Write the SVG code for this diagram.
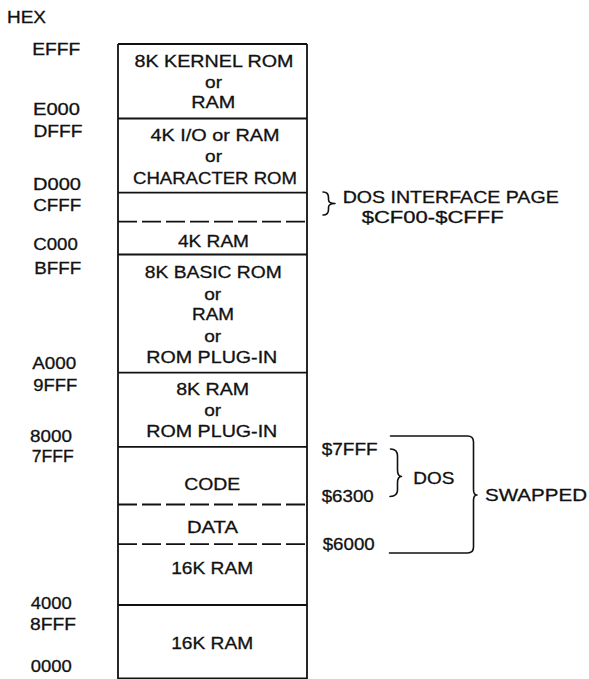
<svg xmlns="http://www.w3.org/2000/svg" width="589" height="679" viewBox="0 0 589 679">
<style>
text{font-family:"Liberation Sans",Arial,sans-serif;font-size:17px;fill:#111;stroke:#111;stroke-width:0.3;}
.c{text-anchor:middle;}
.ln{stroke:#111;stroke-width:1.8;fill:none;}
.ds{stroke:#111;stroke-width:1.8;fill:none;stroke-dasharray:19 5;}
.br{stroke:#111;stroke-width:1.6;fill:none;stroke-linejoin:round;stroke-linecap:round;}
</style>
<rect width="589" height="679" fill="#fff"/>

<g id="addresses">
<text x="7" y="22.7" textLength="39" lengthAdjust="spacingAndGlyphs">HEX</text>
<text x="32.3" y="54.5" textLength="48" lengthAdjust="spacingAndGlyphs">EFFF</text>
<text x="33" y="115" textLength="47" lengthAdjust="spacingAndGlyphs">E000</text>
<text x="33.5" y="136.7" textLength="49" lengthAdjust="spacingAndGlyphs">DFFF</text>
<text x="33" y="189.5" textLength="48" lengthAdjust="spacingAndGlyphs">D000</text>
<text x="33.3" y="210.5" textLength="48" lengthAdjust="spacingAndGlyphs">CFFF</text>
<text x="33.3" y="250" textLength="44.5" lengthAdjust="spacingAndGlyphs">C000</text>
<text x="34.3" y="274.3" textLength="47" lengthAdjust="spacingAndGlyphs">BFFF</text>
<text x="32.3" y="369.3" textLength="44" lengthAdjust="spacingAndGlyphs">A000</text>
<text x="33.3" y="390.7" textLength="44" lengthAdjust="spacingAndGlyphs">9FFF</text>
<text x="30" y="441.7" textLength="42" lengthAdjust="spacingAndGlyphs">8000</text>
<text x="31.7" y="461.5" textLength="42" lengthAdjust="spacingAndGlyphs">7FFF</text>
<text x="30.7" y="609" textLength="41" lengthAdjust="spacingAndGlyphs">4000</text>
<text x="30" y="630" textLength="46" lengthAdjust="spacingAndGlyphs">8FFF</text>
<text x="30.7" y="671.7" textLength="41" lengthAdjust="spacingAndGlyphs">0000</text>
</g>

<g id="memory-box">
<path class="ln" d="M118,44 H307 M118,44 V679 M307,44 V679 M118,678.5 H307"/>
</g>

<g id="kernel-rom">
<path class="ln" d="M118,118.5 H307"/>
<text class="c" x="214" y="66.7" textLength="159" lengthAdjust="spacingAndGlyphs">8K KERNEL ROM</text>
<text class="c" x="213.6" y="88.3" textLength="17" lengthAdjust="spacingAndGlyphs">or</text>
<text class="c" x="213.3" y="108.3" textLength="44" lengthAdjust="spacingAndGlyphs">RAM</text>
</g>

<g id="io-char-rom">
<path class="ln" d="M118,192.7 H307"/>
<text class="c" x="215" y="141" textLength="129" lengthAdjust="spacingAndGlyphs">4K I/O or RAM</text>
<text class="c" x="213.6" y="161.5" textLength="17" lengthAdjust="spacingAndGlyphs">or</text>
<text class="c" x="215" y="184" textLength="164" lengthAdjust="spacingAndGlyphs">CHARACTER ROM</text>
</g>

<g id="dos-interface-page">
<path class="ds" d="M118,221.7 H307"/>
</g>

<g id="ram-4k">
<path class="ln" d="M118,254.5 H307"/>
<text class="c" x="213.5" y="246.5" textLength="71" lengthAdjust="spacingAndGlyphs">4K RAM</text>
</g>

<g id="basic-rom">
<path class="ln" d="M118,372.6 H307"/>
<text class="c" x="213.3" y="278.3" textLength="137" lengthAdjust="spacingAndGlyphs">8K BASIC ROM</text>
<text class="c" x="212.7" y="299.5" textLength="17" lengthAdjust="spacingAndGlyphs">or</text>
<text class="c" x="213" y="320.3" textLength="42" lengthAdjust="spacingAndGlyphs">RAM</text>
<text class="c" x="212.7" y="341.7" textLength="17" lengthAdjust="spacingAndGlyphs">or</text>
<text class="c" x="211.8" y="362.7" textLength="131" lengthAdjust="spacingAndGlyphs">ROM PLUG-IN</text>
</g>

<g id="ram-8k">
<path class="ln" d="M118,446.8 H307"/>
<text class="c" x="212.7" y="395" textLength="73" lengthAdjust="spacingAndGlyphs">8K RAM</text>
<text class="c" x="212.7" y="416" textLength="17" lengthAdjust="spacingAndGlyphs">or</text>
<text class="c" x="211.8" y="436.7" textLength="131" lengthAdjust="spacingAndGlyphs">ROM PLUG-IN</text>
</g>

<g id="code">
<path class="ds" d="M118,504.5 H307"/>
<text class="c" x="212.2" y="490" textLength="56" lengthAdjust="spacingAndGlyphs">CODE</text>
</g>

<g id="data">
<path class="ds" d="M118,544.2 H307"/>
<text class="c" x="212.5" y="532.5" textLength="51" lengthAdjust="spacingAndGlyphs">DATA</text>
</g>

<g id="ram-16k-upper">
<path class="ln" d="M118,605 H307"/>
<text class="c" x="212.2" y="574.3" textLength="82" lengthAdjust="spacingAndGlyphs">16K RAM</text>
</g>

<g id="ram-16k-lower">
<text class="c" x="212.2" y="649.2" textLength="82" lengthAdjust="spacingAndGlyphs">16K RAM</text>
</g>

<g id="annotations">
<text x="342.7" y="203.3" textLength="216" lengthAdjust="spacingAndGlyphs">DOS INTERFACE PAGE</text>
<text x="361.7" y="223.3" textLength="142" lengthAdjust="spacingAndGlyphs">$CF00-$CFFF</text>
<text x="321.7" y="455" textLength="56" lengthAdjust="spacingAndGlyphs">$7FFF</text>
<text x="321.7" y="502.3" textLength="52" lengthAdjust="spacingAndGlyphs">$6300</text>
<text x="322.7" y="550" textLength="52" lengthAdjust="spacingAndGlyphs">$6000</text>
<text x="413.3" y="484" textLength="41" lengthAdjust="spacingAndGlyphs">DOS</text>
<text x="485" y="500.7" textLength="102" lengthAdjust="spacingAndGlyphs">SWAPPED</text>
</g>

<g id="connectors">
<path class="br" d="M323,192 Q328.5,192 328.5,197.5 L328.5,199.5 Q328.5,203.5 335,203.5 Q328.5,203.5 328.5,207.5 L328.5,209.5 Q328.5,215 323,215"/>
<path class="br" d="M390.5,449 Q397.5,449 397.5,456 L397.5,470 Q397.5,476.5 401.5,476.5 Q397.5,476.5 397.5,483 L397.5,490 Q397.5,496.5 390,496.5"/>
<path class="br" d="M390.5,436 L467.5,436 Q473.5,436 473.5,442 L473.5,489.5 Q473.5,495 477,495 Q473.5,495 473.5,500.5 L473.5,547 Q473.5,553 467.5,553 L389.5,553"/>
</g>
</svg>
